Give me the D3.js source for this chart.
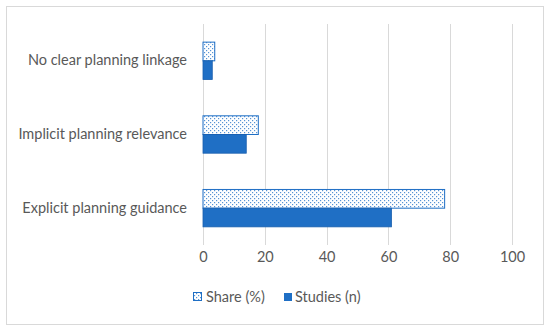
<!DOCTYPE html>
<html><head><meta charset="utf-8">
<script src="https://cdn.jsdelivr.net/npm/d3@7"></script>
<style>body{margin:0;background:#fff}svg{display:block}text{font-family:Lato,"Open Sans",sans-serif}</style>
</head><body><svg id="c" width="550" height="331"></svg>
<script>
const categories = ["No clear planning linkage","Implicit planning relevance","Explicit planning guidance"];
const shareValues = [3.8, 17.9, 78.2];
const studiesValues = [3, 14, 61];
const seriesNames = ["Share (%)","Studies (n)"];
const xTicks = [0,20,40,60,80,100];

const svg = d3.select("#c");
const blue = "#1f6fc5";
const defs = svg.append("defs");
const pat = defs.append("pattern").attr("id","dots").attr("patternUnits","userSpaceOnUse")
  .attr("width",4).attr("height",4);
pat.append("rect").attr("width",4).attr("height",4).attr("fill","#fff");
pat.append("rect").attr("x",0).attr("y",0).attr("width",1.2).attr("height",1.2).attr("fill",blue).attr("opacity",0.75);
pat.append("rect").attr("x",2).attr("y",2).attr("width",1.2).attr("height",1.2).attr("fill",blue).attr("opacity",0.75);

// outer border
svg.append("rect").attr("x",6.5).attr("y",6.5).attr("width",537).attr("height",318)
  .attr("fill","none").attr("stroke","#d9d9d9").attr("stroke-width",1);

const x = d3.scaleLinear().domain([0,100]).range([203,512]);
const y = d3.scaleBand().domain(categories).range([24,245]).paddingInner(0).paddingOuter(0);
const sub = d3.scaleBand().domain(seriesNames).range([0,y.bandwidth()]).paddingInner(0).paddingOuter(0.97);

// gridlines
svg.append("g").selectAll("line").data(xTicks).join("line")
  .attr("x1",d=>Math.round(x(d))+0.5).attr("x2",d=>Math.round(x(d))+0.5)
  .attr("y1",24).attr("y2",245).attr("stroke","#d9d9d9").attr("stroke-width",1);

// axis labels
const xAxis = d3.axisBottom(x).tickValues(xTicks).tickSize(0).tickPadding(0);
const gx = svg.append("g").attr("transform","translate(0,252)").call(xAxis);
gx.select(".domain").remove();
gx.selectAll("text").attr("fill","#595959").attr("font-size",14.5).attr("dy","0.71em");

const yAxis = d3.axisLeft(y).tickSize(0).tickPadding(0);
const gy = svg.append("g").attr("transform","translate(187,0)").call(yAxis);
gy.select(".domain").remove();
gy.selectAll("text").attr("fill","#595959").attr("font-size",14.5);

// bars
const rows = categories.map((c,i)=>({c, vals:[shareValues[i], studiesValues[i]]}));
const g = svg.append("g");
rows.forEach(r=>{
  g.append("rect").attr("x",x(0)).attr("y",y(r.c)+sub(seriesNames[0]))
    .attr("width",x(r.vals[0])-x(0)).attr("height",sub.bandwidth())
    .attr("fill","url(#dots)").attr("stroke",blue).attr("stroke-width",1);
  g.append("rect").attr("x",x(0)).attr("y",y(r.c)+sub(seriesNames[1]))
    .attr("width",x(r.vals[1])-x(0)).attr("height",sub.bandwidth())
    .attr("fill",blue).attr("stroke","#1a5fae").attr("stroke-width",0.8);
});

// legend
const lg = svg.append("g").attr("transform","translate(0,297)");
lg.append("rect").attr("x",193.5).attr("y",-4.5).attr("width",8).attr("height",8)
  .attr("fill","url(#dots)").attr("stroke",blue);
lg.append("text").attr("x",206).attr("y",0).attr("dy","0.35em").attr("font-size",14.5).attr("fill","#595959").text(seriesNames[0]);
lg.append("rect").attr("x",284).attr("y",-4).attr("width",8).attr("height",8).attr("fill",blue);
lg.append("text").attr("x",295).attr("y",0).attr("dy","0.35em").attr("font-size",14.5).attr("fill","#595959").text(seriesNames[1]);
</script></body></html>
